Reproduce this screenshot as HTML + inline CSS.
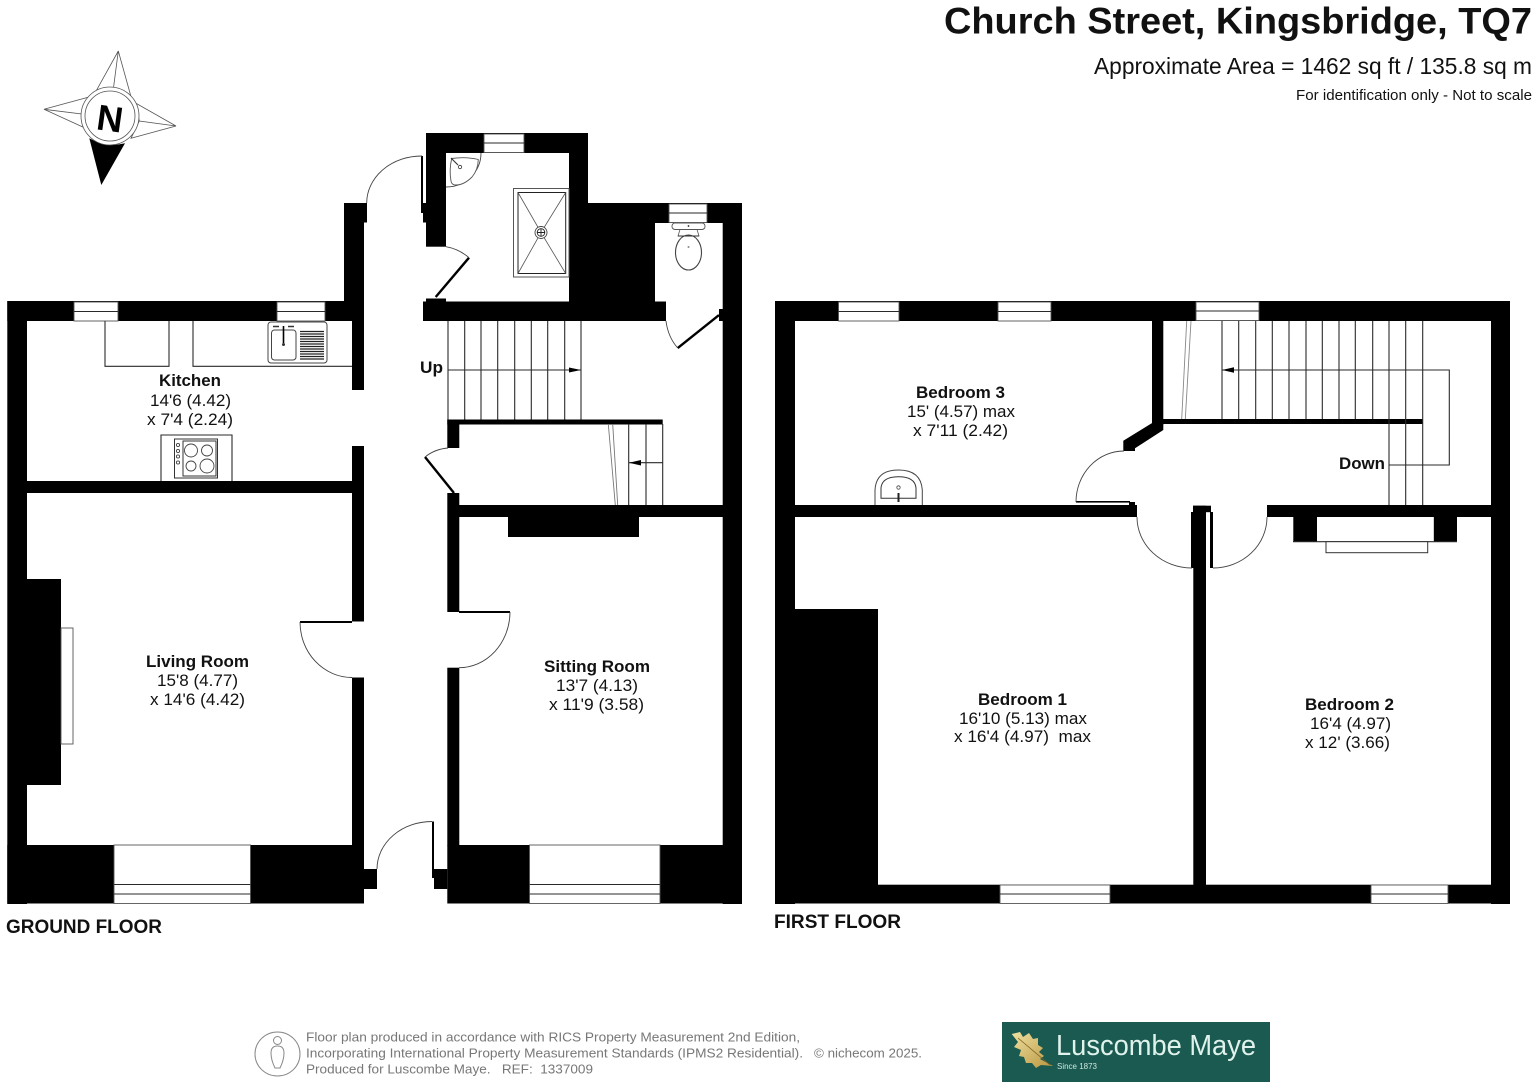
<!DOCTYPE html>
<html><head><meta charset="utf-8"><title>Church Street floor plan</title>
<style>html,body{margin:0;padding:0;background:#fff}svg{display:block}
text{font-family:"Liberation Sans",Arial,sans-serif;fill:#111}
.b{font-weight:bold;font-size:16.5px}.r{font-size:16.5px}
.w{fill:#fff;stroke:#555;stroke-width:.9}.l{fill:none;stroke:#2a2a2a;stroke-width:1.1}.a{fill:none;stroke:#444;stroke-width:.9}
.f{font-size:12.6px;fill:#777}</style></head><body>
<svg width="1536" height="1088" viewBox="0 0 1536 1088" xmlns="http://www.w3.org/2000/svg">
<rect width="1536" height="1088" fill="#fff"/>
<defs><linearGradient id="g" x1="0" y1="0" x2="1" y2="1"><stop offset="0" stop-color="#efe0a0"/><stop offset="1" stop-color="#b8953f"/></linearGradient></defs>

<!-- title -->
<text x="944" y="33.5" font-size="37.5" font-weight="bold" textLength="588" lengthAdjust="spacingAndGlyphs">Church Street, Kingsbridge, TQ7</text>
<text x="1094" y="74" font-size="23.5" textLength="438" lengthAdjust="spacingAndGlyphs">Approximate Area = 1462 sq ft / 135.8 sq m</text>
<text x="1296" y="100" font-size="14.6" textLength="236" lengthAdjust="spacingAndGlyphs">For identification only - Not to scale</text>

<!-- compass -->
<g fill="#fff" stroke="#555" stroke-width=".8">
<path d="M118.3 51L95.7 91.7L113.3 89.3ZM118.3 51L131 96.7L113.3 89.3Z"/>
<path d="M44 109.3L90 96.7L81.7 114ZM44 109.3L85 128L81.7 114Z"/>
<path d="M176 126L136 103.3L139.3 121ZM176 126L131 138.3L139.3 121Z"/>
</g>
<path d="M89.3 138.3Q106 148 125 143.3L101.3 185Z" fill="#000"/>
<circle cx="110" cy="116" r="29" fill="#fff" stroke="#555" stroke-width=".8"/>
<circle cx="110" cy="116" r="25" fill="#fff" stroke="#555" stroke-width=".8"/>
<text x="110" y="131" font-size="36" font-weight="bold" text-anchor="middle" style="fill:#000" transform="rotate(8 110 118)">N</text>

<!-- GROUND FLOOR walls -->
<g fill="#000">
<rect x="7.3" y="301" width="356.7" height="20"/>
<rect x="7.3" y="301" width="19.7" height="603"/>
<rect x="344" y="203" width="20" height="118"/>
<rect x="364" y="203" width="3" height="19.5"/>
<rect x="352" y="321" width="12" height="69"/>
<rect x="352" y="446" width="12" height="175.5"/>
<rect x="352" y="677.5" width="12" height="170"/>
<rect x="27" y="481" width="325" height="12"/>
<rect x="27" y="579" width="34" height="206"/>
<rect x="7.3" y="845" width="356.7" height="58.5"/>
<rect x="364" y="869" width="13" height="20"/>
<rect x="432" y="869" width="15.3" height="9"/>
<rect x="434" y="878" width="13.3" height="11"/>
<rect x="432" y="821.5" width="2" height="48"/>
<rect x="447.3" y="419.5" width="12" height="28.5"/>
<rect x="447.3" y="493" width="12" height="119"/>
<rect x="447.3" y="667.7" width="12" height="178"/>
<rect x="447.3" y="845" width="294.7" height="58.5"/>
<rect x="447.3" y="419.5" width="215.4" height="5"/>
<rect x="459" y="505" width="264" height="12"/>
<rect x="508" y="517" width="131" height="20"/>
<rect x="722.7" y="203" width="19.3" height="701"/>
<rect x="426" y="133" width="162" height="20"/>
<rect x="426" y="133" width="20" height="113.7"/>
<rect x="423" y="203" width="3" height="19.5"/>
<rect x="569" y="133" width="19" height="188"/>
<rect x="569" y="203" width="86" height="118"/>
<rect x="423" y="301.5" width="243" height="19.5"/>
<rect x="426" y="298.5" width="20" height="4"/>
<rect x="588" y="203" width="154" height="20"/>
<rect x="655" y="309" width="11" height="12"/>
<rect x="719" y="309" width="4" height="12"/>
<rect x="421" y="156" width="2" height="57"/>
<rect x="459" y="611" width="51" height="2"/>
<rect x="300" y="621" width="52" height="2"/>
</g>
<!-- ground doors -->
<g stroke="#000" stroke-width="2.4" fill="none">
<path d="M435.7 297L469 257.7M677.7 348L719 315M425 457L454 493"/>
</g>
<g class="a">
<path class="a" d="M422 156A55 47 0 0 0 366.7 203"/>
<path class="a" d="M446 246.7Q459 249 469 257.7"/>
<path class="a" d="M666 321Q668 337 677.7 348"/>
<path class="a" d="M448 448Q435 449 425 457"/>
<path class="a" d="M300 622A52 55.5 0 0 0 352 677.5"/>
<path class="a" d="M510 612A51 56 0 0 1 459 667.7"/>
<path class="a" d="M377 869A55 47.5 0 0 1 432 821.5"/>
</g>
<!-- ground windows -->
<g>
<rect class="w" x="74" y="302" width="44" height="19"/><path class="l" d="M74 311.5H118"/>
<rect class="w" x="277" y="302" width="48" height="19"/><path class="l" d="M277 311.5H325"/>
<rect class="w" x="484" y="134" width="40" height="18.5"/><path class="l" d="M484 143H524"/>
<rect class="w" x="669" y="204" width="38" height="18.5"/><path class="l" d="M669 213H707"/>
<rect class="w" x="114" y="845" width="136.5" height="58.5"/><path class="l" d="M114 884.5H250.5M114 894H250.5"/>
<rect class="w" x="529.5" y="845" width="130.5" height="58.5"/><path class="l" d="M529.5 884.5H660M529.5 894H660"/>
</g>
<!-- kitchen fixtures -->
<path class="l" d="M105 321V366.3H169V321M193 321V366.3H352"/>
<rect x="268" y="322" width="59" height="41" rx="3" fill="#fff" stroke="#444" stroke-width="1"/>
<rect x="271.5" y="330" width="24.5" height="30" rx="3" fill="#fff" stroke="#444" stroke-width="1"/>
<path d="M300 331.5H324M300 334H324M300 336.5H324M300 339H324M300 341.5H324M300 344H324M300 346.5H324M300 349H324M300 351.5H324M300 354H324M300 356.5H324M300 359H324" stroke="#222" stroke-width="1.2"/>
<path d="M283.5 326V343" stroke="#000" stroke-width="1.6"/><circle cx="283.5" cy="344.5" r="1.5" fill="#333"/>
<path d="M273 326.5H279M288 326.5H294" stroke="#333" stroke-width="1.5"/>
<path class="l" d="M161 481V435H232V481"/>
<rect x="174.5" y="439" width="43" height="39" fill="#fff" stroke="#333" stroke-width="1"/>
<rect x="183" y="441" width="33" height="35" fill="#fff" stroke="#333" stroke-width="1"/>
<g class="a"><circle cx="191" cy="450.5" r="6.5"/><circle cx="207" cy="450.5" r="5.5"/><circle cx="191" cy="466" r="5"/><circle cx="207" cy="466" r="7"/>
<circle cx="178" cy="445" r="1.6"/><circle cx="178" cy="451" r="1.6"/><circle cx="178" cy="456.5" r="1.6"/><circle cx="178" cy="462.5" r="1.6"/></g>
<!-- living hearth -->
<rect x="61" y="628" width="12" height="116" fill="#fff" stroke="#555" stroke-width=".9"/>
<!-- stairs ground -->
<path class="l" d="M448 321V419.5M464.7 321V419.5M481 321V419.5M497.7 321V419.5M514.7 321V419.5M531.3 321V419.5M547.7 321V419.5M564.7 321V419.5M581 321V419.5M448 370H581"/>
<path d="M569 367.5L581 370L569 372.5Z" fill="#000"/>
<path class="l" d="M628.7 424V505M646 424V505M662.7 424V505M629 462.7H662.7"/>
<path d="M641 460L629 462.7L641 465.5Z" fill="#000"/>
<path d="M608.3 424L615.3 505M612.7 424L617.7 505" stroke="#777" stroke-width=".9" fill="none"/>
<!-- shower room -->
<path class="a" d="M481 153A35 34 0 0 1 446 187"/>
<path d="M451.7 158.5Q466 156.5 478.3 159.5Q478 170 472 177Q464 185 456 185Q451.5 185 451 181Q449 170 451.7 158.5Z" fill="#fff" stroke="#555" stroke-width=".9"/>
<path d="M451 158L458 165" stroke="#333" stroke-width="1.1"/><circle cx="460" cy="167" r="1.7" fill="#fff" stroke="#333" stroke-width=".8"/>
<rect x="513.5" y="188.5" width="55.5" height="88.5" fill="#fff" stroke="#555" stroke-width="1"/>
<rect x="518" y="192.5" width="47.7" height="81" fill="#fff" stroke="#222" stroke-width="1"/>
<path d="M518 192.5L541 232.5L565.7 192.5M518 273.5L541 232.5L565.7 273.5" stroke="#555" stroke-width=".8" fill="none"/>
<circle cx="541" cy="232.5" r="6" fill="#fff" stroke="#444" stroke-width=".9"/>
<circle cx="541" cy="232.5" r="3.8" fill="#fff" stroke="#222" stroke-width=".9"/>
<path d="M537 232.5H545M541 228.5V236.5" stroke="#222" stroke-width=".9"/>
<!-- WC -->
<path d="M680 229.5L678 236H699L697 229.5Z" fill="#fff" stroke="#555" stroke-width=".8"/>
<rect x="672" y="223" width="33" height="6.5" rx="3" fill="#fff" stroke="#555" stroke-width=".9"/>
<ellipse cx="688.5" cy="252.5" rx="13" ry="17.5" fill="#fff" stroke="#444" stroke-width="1.1"/>
<path d="M678 236H699" stroke="#333" stroke-width=".9"/>
<circle cx="688.5" cy="226" r=".9" fill="#222"/><circle cx="688.5" cy="247" r="1" fill="#888"/>

<!-- FIRST FLOOR walls -->
<g fill="#000">
<rect x="775" y="301" width="735" height="20"/>
<rect x="775" y="301" width="20" height="603"/>
<rect x="1491" y="301" width="19" height="603"/>
<rect x="775" y="884.7" width="735" height="18.8"/>
<rect x="795" y="609" width="83" height="276"/>
<rect x="795" y="505" width="342" height="12"/>
<rect x="1129" y="502" width="6" height="3"/>
<rect x="1076" y="501" width="54" height="1.6"/>
<rect x="1152" y="321" width="11.3" height="104"/>
<path d="M1151.7 423.3L1123.3 440.7V451H1135V448.3L1163.3 430V423Z"/>
<rect x="1163" y="419" width="259.7" height="5"/>
<rect x="1193.3" y="505.7" width="12.7" height="380"/>
<rect x="1191" y="512" width="3" height="56"/>
<rect x="1193" y="505.7" width="18" height="6.5"/>
<rect x="1210" y="512" width="3" height="56"/>
<rect x="1267" y="505" width="224" height="12"/>
<rect x="1293.3" y="517" width="23.7" height="24.7"/>
<rect x="1433.7" y="517" width="23.3" height="24.7"/>
</g>
<rect x="1317" y="517" width="116.7" height="24.7" fill="#fff"/>
<path class="l" d="M1293 541.7H1457"/>
<rect x="1326" y="541.7" width="101.7" height="11" fill="#fff" stroke="#333" stroke-width="1"/>
<g>
<rect class="w" x="838.5" y="302" width="60.5" height="19"/><path class="l" d="M838.5 311.5H899"/>
<rect class="w" x="998" y="302" width="53" height="19"/><path class="l" d="M998 311.5H1051"/>
<rect class="w" x="1196" y="302" width="63" height="18.5"/><path class="l" d="M1196 311H1259"/>
<rect class="w" x="1000" y="885" width="110" height="18.5"/><path class="l" d="M1000 894H1110"/>
<rect class="w" x="1371" y="885" width="77" height="18.5"/><path class="l" d="M1371 894H1448"/>
</g>
<!-- first doors -->
<path class="a" d="M1124 451A48 51 0 0 0 1076 502"/>
<path class="a" d="M1137 517A55 51 0 0 0 1192 568"/>
<path class="a" d="M1213 568A54 51 0 0 0 1267 517"/>
<!-- first stairs -->
<path class="l" d="M1222 321V419M1238.7 321V419M1255.7 321V419M1272.3 321V419M1289 321V419M1306 321V419M1322.3 321V419M1339 321V419M1355.3 321V419M1372.7 321V419M1389 321V505M1405.7 321V505M1422.7 321V505M1222 370H1449.3V465H1389"/>
<path d="M1234 367.3L1222 370L1234 372.7Z" fill="#000"/>
<path d="M1186.7 321L1181.7 419M1191 321L1185.3 419" stroke="#888" stroke-width=".9" fill="none"/>
<!-- basin bed 3 -->
<path d="M875 505V490Q876 470 898.5 470Q921 470 922.3 490V505" fill="#fff" stroke="#444" stroke-width="1"/>
<path d="M881 498.3V488Q882 476.7 898.5 476.7Q915 476.7 916 488V498.3Z" fill="#fff" stroke="#333" stroke-width="1"/>
<circle cx="898.5" cy="487.5" r="1.7" fill="#fff" stroke="#444" stroke-width=".8"/>
<path d="M898.5 493V502" stroke="#222" stroke-width="2"/>

<!-- room labels -->
<text class="b" x="159" y="386" textLength="62" lengthAdjust="spacingAndGlyphs">Kitchen</text>
<text class="r" x="150" y="406" textLength="81" lengthAdjust="spacingAndGlyphs">14'6 (4.42)</text>
<text class="r" x="147" y="425" textLength="86" lengthAdjust="spacingAndGlyphs">x 7'4 (2.24)</text>
<text class="b" x="146" y="667" textLength="103" lengthAdjust="spacingAndGlyphs">Living Room</text>
<text class="r" x="157" y="686" textLength="81" lengthAdjust="spacingAndGlyphs">15'8 (4.77)</text>
<text class="r" x="150" y="705" textLength="95" lengthAdjust="spacingAndGlyphs">x 14'6 (4.42)</text>
<text class="b" x="544" y="672" textLength="106" lengthAdjust="spacingAndGlyphs">Sitting Room</text>
<text class="r" x="556" y="691" textLength="82" lengthAdjust="spacingAndGlyphs">13'7 (4.13)</text>
<text class="r" x="549" y="710" textLength="95" lengthAdjust="spacingAndGlyphs">x 11'9 (3.58)</text>
<text class="b" x="916" y="398" textLength="89" lengthAdjust="spacingAndGlyphs">Bedroom 3</text>
<text class="r" x="907" y="417" textLength="108" lengthAdjust="spacingAndGlyphs">15' (4.57) max</text>
<text class="r" x="913" y="436" textLength="95" lengthAdjust="spacingAndGlyphs">x 7'11 (2.42)</text>
<text class="b" x="978" y="705" textLength="89" lengthAdjust="spacingAndGlyphs">Bedroom 1</text>
<text class="r" x="959" y="724" textLength="128" lengthAdjust="spacingAndGlyphs">16'10 (5.13) max</text>
<text class="r" x="954" y="742" textLength="137" lengthAdjust="spacingAndGlyphs" xml:space="preserve">x 16'4 (4.97)  max</text>
<text class="b" x="1305" y="710" textLength="89" lengthAdjust="spacingAndGlyphs">Bedroom 2</text>
<text class="r" x="1310" y="729" textLength="81" lengthAdjust="spacingAndGlyphs">16'4 (4.97)</text>
<text class="r" x="1305" y="748" textLength="85" lengthAdjust="spacingAndGlyphs">x 12' (3.66)</text>
<text class="b" x="420" y="373" textLength="23" lengthAdjust="spacingAndGlyphs">Up</text>
<text class="b" x="1339" y="469" textLength="46" lengthAdjust="spacingAndGlyphs">Down</text>
<text x="6" y="933" font-size="19" font-weight="bold" textLength="156" lengthAdjust="spacingAndGlyphs">GROUND FLOOR</text>
<text x="774" y="928" font-size="19" font-weight="bold" textLength="127" lengthAdjust="spacingAndGlyphs">FIRST FLOOR</text>

<!-- footer -->
<ellipse cx="277.5" cy="1054" rx="22.5" ry="22" fill="#fff" stroke="#888" stroke-width="1"/>
<circle cx="277.5" cy="1040.5" r="4" fill="#fff" stroke="#888" stroke-width="1"/>
<path d="M271 1053Q271 1046 277.5 1046Q284 1046 284 1053Q284 1060 280 1068H275Q271 1060 271 1053Z" fill="#fff" stroke="#888" stroke-width="1"/>
<text class="f" x="306" y="1041.5" textLength="494" lengthAdjust="spacingAndGlyphs">Floor plan produced in accordance with RICS Property Measurement 2nd Edition,</text>
<text class="f" x="306" y="1057.5" textLength="497" lengthAdjust="spacingAndGlyphs">Incorporating International Property Measurement Standards (IPMS2 Residential).</text>
<text class="f" x="814" y="1057.5" textLength="108" lengthAdjust="spacingAndGlyphs">© nichecom 2025.</text>
<text class="f" x="306" y="1073.5" textLength="287" lengthAdjust="spacingAndGlyphs" xml:space="preserve">Produced for Luscombe Maye.   REF:  1337009</text>

<!-- logo -->
<rect x="1002" y="1022" width="268" height="60" fill="#1b5a50"/>
<path d="M1011.7 1034L1020 1032L1023 1037L1029 1033L1033 1039L1038 1038L1038 1045L1043 1048L1039 1052L1044 1056L1040 1059L1053 1066L1041 1065L1036 1068L1032 1063L1026 1063L1024 1057L1019 1056L1021 1050L1014 1047L1018 1042Z" fill="url(#g)"/>
<path d="M1018 1038L1050 1065" stroke="#7a5f22" stroke-width=".8" fill="none"/>
<text x="1056" y="1055" font-size="29" textLength="200" lengthAdjust="spacingAndGlyphs" style="fill:#dff2ec">Luscombe Maye</text>
<text x="1057" y="1069" font-size="8.5" textLength="40" lengthAdjust="spacingAndGlyphs" style="fill:#cfe6df">Since 1873</text>
</svg>
</body></html>
